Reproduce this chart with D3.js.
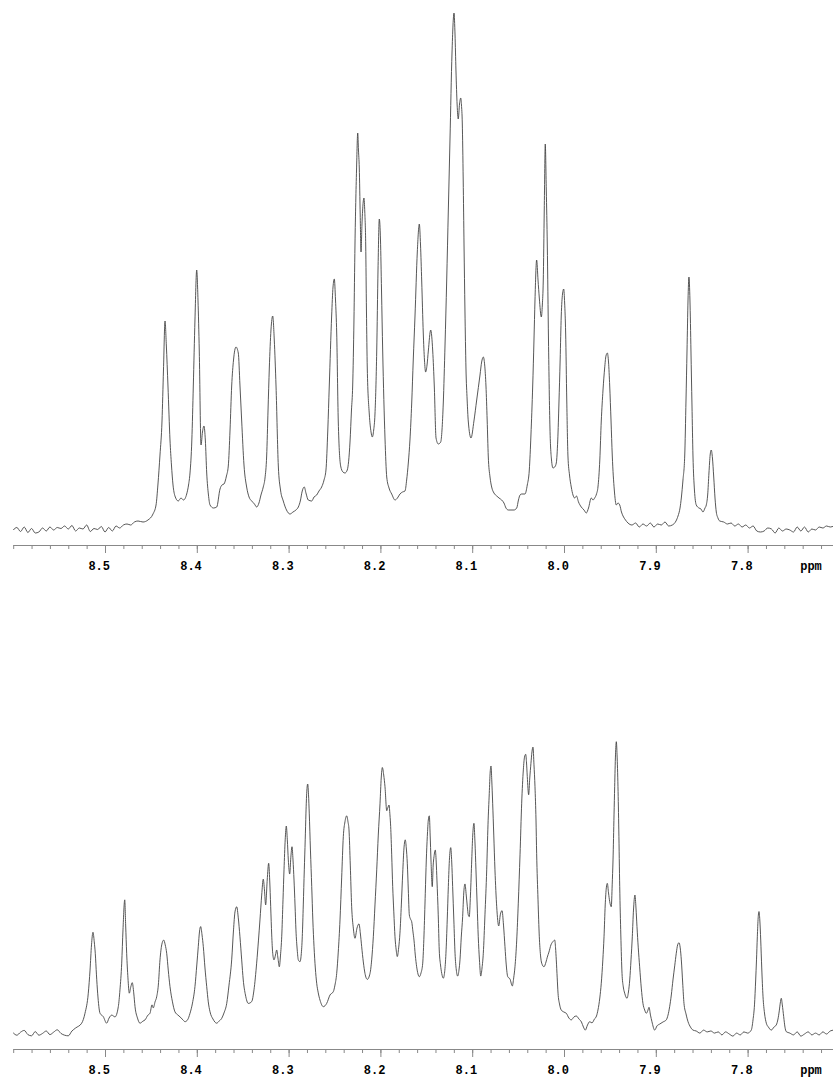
<!DOCTYPE html>
<html>
<head>
<meta charset="utf-8">
<script src="https://cdn.jsdelivr.net/npm/d3@7"></script>
<style>
  body { margin: 0; background: #fff; }
</style>
</head>
<body>
<div id="nmr"></div>
<script>
// Chemical shift ticks (ppm)
var majorTicks = [8.5, 8.4, 8.3, 8.2, 8.1, 8.0, 7.9, 7.8];
var unitLabel = "ppm";

// Upper spectrum: [ppm, intensity]
var topSpectrum = [
  [8.600, 0.0], [8.596, 0.5], [8.592, -0.3], [8.588, 0.6], [8.584, -0.5], [8.580, 0.3],
  [8.576, -0.6], [8.572, -0.4], [8.568, 0.4], [8.564, -0.2], [8.560, 0.6], [8.556, 0.0],
  [8.552, 0.5], [8.548, 0.3], [8.544, 0.8], [8.540, 0.2], [8.536, 0.9], [8.532, -0.2],
  [8.528, 0.4], [8.524, 0.2], [8.520, 1.0], [8.516, -0.3], [8.512, 0.3], [8.508, 0.1],
  [8.504, 0.7], [8.500, -0.4], [8.496, 0.5], [8.492, -0.2], [8.488, 0.8], [8.484, 0.4],
  [8.480, 1.0], [8.476, 1.2], [8.472, 1.0], [8.468, 1.6], [8.464, 1.8],
  [8.4586, 1.6], [8.4532, 2.0], [8.4477, 3.2], [8.4444, 5.0], [8.4423, 9.2], [8.4401, 15.0],
  [8.4379, 21.8], [8.4363, 32.0], [8.4346, 41.8], [8.4332, 37.0], [8.4314, 28.8], [8.4292, 18.0],
  [8.4276, 13.0], [8.4259, 9.0], [8.4238, 6.8], [8.4202, 5.8], [8.4172, 6.4], [8.4145, 6.0],
  [8.4110, 7.2], [8.4090, 9.0], [8.4074, 11.4], [8.4054, 18.0], [8.4038, 28.8], [8.4020, 42.0],
  [8.4001, 52.0], [8.3987, 46.0], [8.3973, 35.8], [8.3954, 17.0], [8.3938, 19.6], [8.3922, 20.8],
  [8.3907, 18.0], [8.3892, 11.4], [8.3873, 7.0], [8.3856, 5.0], [8.3818, 4.4], [8.3783, 4.6],
  [8.3747, 8.2], [8.3726, 9.0], [8.3704, 9.2], [8.3677, 10.8], [8.3657, 12.8], [8.3638, 20.0],
  [8.3620, 28.8], [8.3600, 34.0], [8.3573, 36.6], [8.3548, 35.4], [8.3530, 29.0], [8.3511, 21.8],
  [8.3486, 13.0], [8.3457, 8.6], [8.3431, 6.6], [8.3402, 5.8], [8.3372, 5.2], [8.3348, 4.6],
  [8.3323, 5.4], [8.3301, 7.0], [8.3276, 8.6], [8.3257, 10.4], [8.3239, 14.8], [8.3224, 24.0],
  [8.3210, 32.4], [8.3192, 40.0], [8.3173, 42.8], [8.3156, 38.0], [8.3137, 28.8], [8.3112, 12.8],
  [8.3088, 8.0], [8.3058, 5.8], [8.3023, 4.0], [8.2985, 3.2], [8.2952, 3.6], [8.2920, 4.0],
  [8.2894, 4.6], [8.2870, 6.0], [8.2854, 7.6], [8.2829, 8.6], [8.2811, 7.4], [8.2786, 6.0],
  [8.2748, 5.8], [8.2723, 6.6], [8.2694, 7.0], [8.2669, 7.8], [8.2640, 8.6], [8.2614, 10.0],
  [8.2593, 12.0], [8.2573, 20.0], [8.2557, 28.8], [8.2531, 42.8], [8.2516, 48.6], [8.2502, 50.2],
  [8.2489, 46.0], [8.2476, 39.4], [8.2459, 21.8], [8.2433, 12.8], [8.2408, 11.6], [8.2386, 11.4],
  [8.2361, 12.0], [8.2331, 17.6], [8.2315, 24.0], [8.2302, 28.8], [8.2288, 42.0], [8.2277, 57.0],
  [8.2260, 72.0], [8.2247, 79.4], [8.2239, 76.0], [8.2230, 72.4], [8.2220, 63.0], [8.2211, 55.6],
  [8.2201, 61.0], [8.2190, 65.0], [8.2179, 66.4], [8.2170, 63.6], [8.2160, 57.0], [8.2152, 44.0],
  [8.2143, 32.4], [8.2121, 23.2], [8.2102, 19.6], [8.2088, 18.6], [8.2073, 20.0], [8.2059, 23.2],
  [8.2040, 35.8], [8.2026, 52.0], [8.2012, 62.2], [8.1999, 58.0], [8.1988, 48.0], [8.1975, 35.8],
  [8.1950, 18.4], [8.1931, 10.6], [8.1906, 8.4], [8.1877, 7.2], [8.1841, 6.0], [8.1814, 6.4],
  [8.1787, 7.2], [8.1759, 7.6], [8.1732, 7.8], [8.1714, 10.0], [8.1696, 13.4], [8.1678, 18.0],
  [8.1659, 25.4], [8.1642, 34.0], [8.1623, 42.8], [8.1598, 55.6], [8.1576, 61.2], [8.1563, 57.0],
  [8.1550, 49.8], [8.1533, 39.4], [8.1520, 34.0], [8.1507, 31.6], [8.1492, 33.0], [8.1478, 35.8],
  [8.1452, 40.0], [8.1430, 35.8], [8.1413, 28.8], [8.1394, 18.4], [8.1369, 17.2], [8.1343, 17.6],
  [8.1329, 20.0], [8.1315, 25.4], [8.1296, 37.0], [8.1278, 49.8], [8.1260, 64.0], [8.1242, 78.0],
  [8.1220, 95.4], [8.1198, 103.4], [8.1187, 99.0], [8.1177, 92.0], [8.1164, 85.0], [8.1152, 82.2],
  [8.1138, 85.2], [8.1125, 86.4], [8.1117, 85.0], [8.1108, 81.4], [8.1098, 70.0], [8.1089, 57.0],
  [8.1079, 44.0], [8.1068, 32.4], [8.1055, 26.0], [8.1043, 21.8], [8.1013, 18.4], [8.0981, 21.8],
  [8.0951, 26.0], [8.0915, 31.0], [8.0897, 33.6], [8.0879, 34.6], [8.0864, 33.0], [8.0850, 28.8],
  [8.0837, 22.0], [8.0825, 14.8], [8.0806, 10.6], [8.0788, 8.6], [8.0763, 7.4], [8.0733, 6.8],
  [8.0708, 6.4], [8.0679, 6.0], [8.0654, 5.4], [8.0632, 4.4], [8.0607, 4.0], [8.0578, 4.0],
  [8.0545, 4.0], [8.0515, 4.4], [8.0496, 6.0], [8.0479, 7.0], [8.0461, 7.2], [8.0425, 7.2],
  [8.0400, 9.0], [8.0378, 12.0], [8.0360, 19.0], [8.0341, 28.8], [8.0327, 38.0], [8.0316, 46.0],
  [8.0298, 54.0], [8.0283, 50.0], [8.0269, 46.4], [8.0247, 42.6], [8.0236, 45.0], [8.0226, 49.8],
  [8.0215, 64.0], [8.0204, 77.2], [8.0193, 68.0], [8.0182, 57.0], [8.0169, 38.0], [8.0153, 20.4],
  [8.0136, 14.0], [8.0120, 12.4], [8.0101, 12.6], [8.0084, 13.4], [8.0068, 18.0], [8.0055, 25.4],
  [8.0042, 34.0], [8.0030, 42.8], [8.0016, 47.2], [8.0003, 48.2], [7.9993, 45.4], [7.9982, 39.4],
  [7.9970, 26.0], [7.9957, 14.8], [7.9940, 11.0], [7.9921, 8.6], [7.9902, 7.0], [7.9884, 6.4],
  [7.9864, 6.8], [7.9842, 5.6], [7.9812, 4.6], [7.9782, 4.0], [7.9757, 3.4], [7.9733, 4.4],
  [7.9703, 6.4], [7.9684, 6.0], [7.9666, 6.4], [7.9646, 7.2], [7.9630, 8.6], [7.9610, 14.0],
  [7.9594, 21.8], [7.9575, 28.0], [7.9557, 32.4], [7.9543, 34.8], [7.9528, 35.4], [7.9515, 33.6],
  [7.9502, 28.8], [7.9488, 22.0], [7.9474, 14.8], [7.9452, 8.0], [7.9430, 5.0], [7.9412, 5.4],
  [7.9393, 5.0], [7.9374, 3.6], [7.9357, 2.8], [7.9330, 2.0], [7.9303, 1.4],
  [7.926, 1.0], [7.922, 1.4], [7.918, 0.6], [7.914, 1.2], [7.910, 0.8], [7.906, 1.4],
  [7.902, 0.6], [7.898, 1.2], [7.894, 1.0], [7.890, 1.6], [7.886, 0.8], [7.882, 1.0], [7.878, 1.8],
  [7.8758, 2.8], [7.8736, 4.4], [7.8722, 6.4], [7.8704, 10.0], [7.8685, 14.8], [7.8671, 26.0],
  [7.8660, 35.8], [7.8649, 46.0], [7.8639, 50.6], [7.8628, 46.0], [7.8617, 35.8], [7.8606, 25.0],
  [7.8595, 14.8], [7.8579, 8.0], [7.8559, 5.0], [7.8530, 4.4], [7.8508, 4.2], [7.8486, 3.6],
  [7.8464, 4.4], [7.8450, 5.0], [7.8435, 7.0], [7.8421, 11.4], [7.8408, 15.0], [7.8396, 16.0],
  [7.8383, 14.4], [7.8369, 10.6], [7.8355, 6.4], [7.8341, 3.6], [7.8323, 2.4], [7.8304, 1.8],
  [7.826, 1.6], [7.822, 1.2], [7.818, 1.4], [7.814, 0.8], [7.810, 1.2], [7.806, 0.6],
  [7.802, 1.0], [7.798, 0.4], [7.794, 0.8], [7.790, -0.2], [7.786, -0.4], [7.782, -0.2],
  [7.778, 0.4], [7.774, 0.2], [7.770, -0.6], [7.766, 0.4], [7.762, -0.2], [7.758, 0.2],
  [7.754, 0.0], [7.750, -0.4], [7.746, 0.6], [7.742, -0.2], [7.738, 0.6], [7.734, -0.4],
  [7.730, 0.2], [7.726, 0.0], [7.722, 0.6], [7.718, 0.4], [7.714, 0.8], [7.710, 0.6], [7.706, 0.8]
];

// Lower spectrum: [ppm, intensity]
var bottomSpectrum = [
  [8.600, 0.4], [8.596, -0.4], [8.592, 0.6], [8.588, 1.2], [8.584, -0.2], [8.580, -0.6],
  [8.576, 0.8], [8.572, -0.4], [8.568, 0.2], [8.564, 1.0], [8.560, -0.2], [8.556, 0.6],
  [8.552, 1.4], [8.548, 0.2], [8.544, -0.4], [8.540, -0.6], [8.536, 1.0], [8.532, 2.0],
  [8.5254, 3.6], [8.5218, 6.9], [8.5182, 13.6], [8.5163, 21.3], [8.5147, 29.7], [8.5131, 33.9],
  [8.5117, 30.7], [8.5106, 26.9], [8.5093, 19.7], [8.5080, 13.6], [8.5054, 6.9], [8.5019, 5.8],
  [8.4982, 3.6], [8.4956, 5.3], [8.4927, 6.3], [8.4891, 5.7], [8.4855, 9.1], [8.4837, 14.7],
  [8.4818, 23.6], [8.4804, 34.7], [8.4785, 44.7], [8.4775, 36.3], [8.4764, 26.9], [8.4750, 18.7],
  [8.4735, 13.6], [8.4719, 15.7], [8.4703, 17.1], [8.4687, 13.7], [8.4673, 9.1], [8.4646, 5.3],
  [8.4619, 3.6], [8.4586, 4.3], [8.4564, 4.7], [8.4532, 6.3], [8.4510, 6.9], [8.4488, 9.7],
  [8.4474, 8.7], [8.4455, 10.7], [8.4437, 12.4], [8.4419, 16.3], [8.4401, 24.7], [8.4382, 29.7],
  [8.4361, 31.3], [8.4344, 29.7], [8.4328, 26.9], [8.4311, 21.3], [8.4292, 15.8], [8.4265, 10.7],
  [8.4238, 7.4], [8.4205, 6.3], [8.4183, 5.7], [8.4150, 4.7], [8.4129, 4.1], [8.4101, 4.7],
  [8.4074, 6.9], [8.4047, 10.3], [8.4020, 15.8], [8.4000, 23.0], [8.3984, 29.1], [8.3971, 34.0],
  [8.3958, 35.8], [8.3943, 33.0], [8.3929, 29.1], [8.3911, 22.0], [8.3892, 15.8], [8.3875, 10.7],
  [8.3856, 7.4], [8.3824, 5.0], [8.3783, 3.6], [8.3758, 4.3], [8.3729, 5.2], [8.3704, 7.0],
  [8.3674, 10.2], [8.3649, 16.3], [8.3620, 24.7], [8.3600, 34.7], [8.3584, 40.7], [8.3565, 42.4],
  [8.3548, 38.7], [8.3530, 32.4], [8.3511, 24.7], [8.3494, 18.0], [8.3470, 13.0], [8.3439, 10.2],
  [8.3402, 10.8], [8.3377, 14.7], [8.3348, 23.6], [8.3328, 31.3], [8.3312, 38.0], [8.3293, 46.3],
  [8.3276, 51.6], [8.3263, 48.0], [8.3250, 43.0], [8.3233, 51.3], [8.3217, 56.9], [8.3206, 51.3],
  [8.3195, 42.4], [8.3184, 33.0], [8.3173, 26.9], [8.3159, 24.7], [8.3143, 26.3], [8.3130, 28.0],
  [8.3116, 25.3], [8.3101, 22.4], [8.3088, 26.3], [8.3075, 32.4], [8.3061, 44.7], [8.3050, 54.7],
  [8.3037, 64.7], [8.3025, 69.3], [8.3014, 64.7], [8.3003, 58.0], [8.2988, 53.3], [8.2976, 58.7],
  [8.2963, 62.4], [8.2952, 58.0], [8.2941, 51.3], [8.2930, 43.0], [8.2920, 34.7], [8.2906, 28.0],
  [8.2894, 24.7], [8.2876, 24.1], [8.2863, 26.3], [8.2851, 32.4], [8.2840, 43.0], [8.2829, 54.7],
  [8.2819, 64.7], [8.2811, 73.6], [8.2802, 80.7], [8.2792, 83.3], [8.2783, 79.7], [8.2775, 73.6],
  [8.2762, 61.3], [8.2748, 49.1], [8.2736, 38.0], [8.2723, 29.1], [8.2709, 22.0], [8.2694, 16.9],
  [8.2677, 13.7], [8.2658, 11.3], [8.2622, 9.1], [8.2585, 10.2], [8.2549, 13.0], [8.2513, 14.1],
  [8.2495, 16.3], [8.2476, 20.2], [8.2459, 27.3], [8.2440, 38.0], [8.2422, 52.0], [8.2404, 65.8],
  [8.2386, 70.7], [8.2367, 72.7], [8.2353, 70.7], [8.2342, 68.0], [8.2328, 56.3], [8.2313, 42.4],
  [8.2295, 35.3], [8.2277, 31.9], [8.2255, 35.3], [8.2233, 36.7], [8.2219, 33.7], [8.2204, 29.1],
  [8.2186, 24.0], [8.2168, 20.2], [8.2143, 18.2], [8.2113, 20.2], [8.2095, 24.7], [8.2077, 32.4],
  [8.2059, 43.0], [8.2040, 54.7], [8.2023, 66.3], [8.2004, 76.9], [8.1991, 85.3], [8.1979, 88.8],
  [8.1964, 86.3], [8.1950, 82.4], [8.1931, 74.4], [8.1920, 75.3], [8.1906, 76.3], [8.1896, 73.0],
  [8.1888, 69.1], [8.1877, 59.7], [8.1866, 49.1], [8.1854, 40.7], [8.1841, 32.4], [8.1828, 28.0],
  [8.1816, 25.8], [8.1801, 28.7], [8.1787, 33.6], [8.1772, 43.0], [8.1757, 53.6], [8.1743, 62.0],
  [8.1729, 64.7], [8.1718, 62.0], [8.1707, 56.9], [8.1696, 48.0], [8.1685, 39.7], [8.1672, 38.3],
  [8.1659, 37.4], [8.1645, 34.0], [8.1634, 31.3], [8.1620, 26.3], [8.1605, 22.4], [8.1576, 19.1],
  [8.1558, 20.3], [8.1539, 23.6], [8.1525, 33.0], [8.1511, 46.9], [8.1500, 58.0], [8.1489, 65.8],
  [8.1478, 71.3], [8.1467, 72.7], [8.1458, 66.3], [8.1449, 58.0], [8.1435, 49.1], [8.1425, 56.3],
  [8.1416, 59.1], [8.1402, 61.3], [8.1392, 57.3], [8.1384, 51.3], [8.1370, 39.7], [8.1359, 28.0],
  [8.1345, 23.0], [8.1332, 20.2], [8.1315, 18.6], [8.1300, 20.7], [8.1286, 26.9], [8.1272, 38.0],
  [8.1260, 49.1], [8.1247, 58.7], [8.1234, 62.1], [8.1223, 57.3], [8.1213, 49.1], [8.1200, 38.0],
  [8.1187, 26.9], [8.1173, 21.3], [8.1158, 19.3], [8.1144, 21.3], [8.1133, 24.7], [8.1119, 32.3],
  [8.1104, 39.1], [8.1092, 47.0], [8.1079, 50.0], [8.1065, 46.3], [8.1053, 42.4], [8.1043, 39.7],
  [8.1032, 39.1], [8.1019, 46.3], [8.1005, 58.0], [8.0994, 66.3], [8.0981, 70.2], [8.0970, 64.0],
  [8.0959, 54.7], [8.0946, 43.0], [8.0934, 32.4], [8.0921, 24.7], [8.0907, 19.3], [8.0893, 22.0],
  [8.0879, 26.9], [8.0861, 39.7], [8.0842, 54.7], [8.0828, 69.7], [8.0814, 80.2], [8.0804, 87.3],
  [8.0795, 89.3], [8.0787, 84.7], [8.0777, 76.9], [8.0765, 66.3], [8.0752, 54.7], [8.0733, 42.4],
  [8.0711, 36.0], [8.0694, 39.7], [8.0675, 41.1], [8.0659, 36.3], [8.0643, 29.1], [8.0629, 23.0],
  [8.0613, 19.1], [8.0588, 18.3], [8.0563, 16.0], [8.0548, 18.7], [8.0534, 22.4], [8.0515, 31.3],
  [8.0498, 43.6], [8.0479, 59.7], [8.0461, 76.9], [8.0443, 88.0], [8.0430, 92.3], [8.0417, 93.2],
  [8.0409, 90.7], [8.0400, 85.8], [8.0385, 79.7], [8.0373, 85.3], [8.0360, 90.2], [8.0349, 94.0],
  [8.0338, 95.6], [8.0327, 89.7], [8.0316, 82.4], [8.0305, 71.3], [8.0298, 60.2], [8.0283, 44.7],
  [8.0269, 32.4], [8.0256, 26.3], [8.0243, 23.6], [8.0218, 22.4], [8.0196, 24.0], [8.0182, 25.6],
  [8.0164, 27.3], [8.0142, 29.7], [8.0120, 30.8], [8.0101, 31.3], [8.0092, 28.7], [8.0084, 24.7],
  [8.0074, 18.7], [8.0065, 13.6], [8.0049, 10.0], [8.0030, 8.0], [8.0000, 7.3], [7.9975, 6.9],
  [7.9946, 5.3], [7.9921, 4.7], [7.9891, 5.7], [7.9866, 6.0], [7.9837, 5.0], [7.9810, 4.0],
  [7.9788, 2.3], [7.9768, 1.3], [7.9744, 3.0], [7.9720, 4.1], [7.9695, 3.7], [7.9668, 5.0],
  [7.9646, 6.0], [7.9630, 8.0], [7.9610, 12.0], [7.9594, 16.9], [7.9577, 24.7], [7.9564, 32.4],
  [7.9551, 43.0], [7.9539, 48.7], [7.9528, 50.2], [7.9515, 47.0], [7.9502, 44.1], [7.9485, 42.4],
  [7.9475, 49.7], [7.9466, 58.0], [7.9455, 73.0], [7.9448, 82.4], [7.9439, 93.0], [7.9430, 97.4],
  [7.9422, 93.0], [7.9412, 82.4], [7.9403, 68.0], [7.9393, 49.1], [7.9381, 33.0], [7.9368, 20.2],
  [7.9354, 15.7], [7.9339, 13.6], [7.9314, 11.9], [7.9298, 14.0], [7.9284, 18.0], [7.9270, 24.7],
  [7.9256, 32.4], [7.9243, 41.3], [7.9227, 46.3], [7.9216, 42.0], [7.9205, 35.8], [7.9191, 28.7],
  [7.9176, 22.4], [7.9158, 15.3], [7.9140, 10.2], [7.9121, 8.0], [7.9104, 6.9], [7.9088, 7.7],
  [7.9074, 8.9], [7.9058, 6.3], [7.9042, 4.1], [7.9012, 1.3], [7.8987, 2.7], [7.8958, 3.3],
  [7.8922, 4.0], [7.8886, 4.7], [7.8867, 6.3], [7.8849, 9.1], [7.8831, 13.0], [7.8813, 18.0],
  [7.8794, 22.7], [7.8777, 26.9], [7.8762, 29.7], [7.8747, 30.4], [7.8734, 28.7], [7.8722, 24.7],
  [7.8707, 17.0], [7.8693, 10.2], [7.8671, 6.7], [7.8649, 4.1], [7.8622, 2.3], [7.8595, 1.3],
  [7.856, 1.0], [7.852, 0.3], [7.848, 1.3], [7.844, 0.7], [7.840, 1.0], [7.836, 0.3],
  [7.832, 0.7], [7.828, -0.3], [7.824, 0.7], [7.820, 0.0], [7.816, -0.7], [7.812, 0.3],
  [7.808, -0.3], [7.804, 0.7], [7.800, 0.3], [7.796, 1.3],
  [7.7941, 4.7], [7.7925, 9.7], [7.7912, 18.0], [7.7903, 24.7], [7.7894, 32.4], [7.7885, 38.7],
  [7.7876, 40.8], [7.7867, 38.0], [7.7857, 31.3], [7.7846, 22.0], [7.7832, 12.4], [7.7816, 7.0],
  [7.7796, 3.6], [7.7773, 2.3], [7.7742, 1.3], [7.7713, 2.3], [7.7688, 3.0], [7.7669, 5.0],
  [7.7655, 7.7], [7.7644, 10.3], [7.7633, 11.9], [7.7622, 9.7], [7.7607, 5.8], [7.7593, 2.3],
  [7.7579, 0.8], [7.754, 0.3], [7.750, -0.3], [7.746, 0.7], [7.742, -0.7], [7.738, 0.0],
  [7.734, 0.7], [7.730, -0.3], [7.726, 0.3], [7.722, -0.3], [7.718, 0.7], [7.714, 0.0],
  [7.710, 1.0], [7.706, 1.3]
];

var svgWidth = 833;
var svgHeight = 1079;

var svg = d3.select("#nmr")
  .append("svg")
  .attr("width", svgWidth)
  .attr("height", svgHeight);

// shared ppm axis, reversed as usual for NMR
var xScale = d3.scaleLinear()
  .domain([8.6, 7.7])
  .range([13.2, 839.4]);

var minorTicks = d3.range(386, 431).map(function(k) { return k / 50; });

// each panel: spectrum + its own axis
var panels = [
  { data: topSpectrum, base: 530, top: 13, axisY: 545 },
  { data: bottomSpectrum, base: 1034, top: 741.7, axisY: 1049 }
];

panels.forEach(function(p) {
  var yScale = d3.scaleLinear()
    .domain([0, d3.max(p.data, function(d) { return d[1]; })])
    .range([p.base, p.top]);

  var line = d3.line()
    .x(function(d) { return xScale(d[0]); })
    .y(function(d) { return yScale(d[1]); })
    .curve(d3.curveMonotoneX);

  svg.append("path")
    .datum(p.data)
    .attr("fill", "none")
    .attr("stroke", "#444")
    .attr("stroke-width", 0.9)
    .attr("d", line);

  // minor ticks
  var minorAxis = svg.append("g")
    .attr("transform", "translate(0," + p.axisY + ")")
    .call(d3.axisBottom(xScale).tickValues(minorTicks).tickSize(4).tickSizeOuter(0).tickFormat(""));

  // major ticks + labels
  var majorAxis = svg.append("g")
    .attr("transform", "translate(0," + p.axisY + ")")
    .call(d3.axisBottom(xScale).tickValues(majorTicks).tickSize(8).tickSizeOuter(0).tickFormat(d3.format(".1f")));

  [minorAxis, majorAxis].forEach(function(g) {
    g.select(".domain").attr("stroke", "#888");
    g.selectAll(".tick line").attr("stroke", "#888");
  });

  majorAxis.selectAll("text")
    .attr("fill", "#000")
    .attr("font-family", "'Liberation Mono', 'DejaVu Sans Mono', monospace")
    .attr("font-weight", "bold")
    .attr("font-size", "12px")
    .attr("text-anchor", "end")
    .attr("x", 4.5)
    .attr("y", 24.5)
    .attr("dy", 0);

  svg.append("text")
    .attr("x", 811)
    .attr("y", p.axisY + 24.5)
    .attr("text-anchor", "middle")
    .attr("font-family", "'Liberation Mono', 'DejaVu Sans Mono', monospace")
    .attr("font-weight", "bold")
    .attr("font-size", "12px")
    .attr("fill", "#000")
    .text(unitLabel);
});
</script>
</body>
</html>
